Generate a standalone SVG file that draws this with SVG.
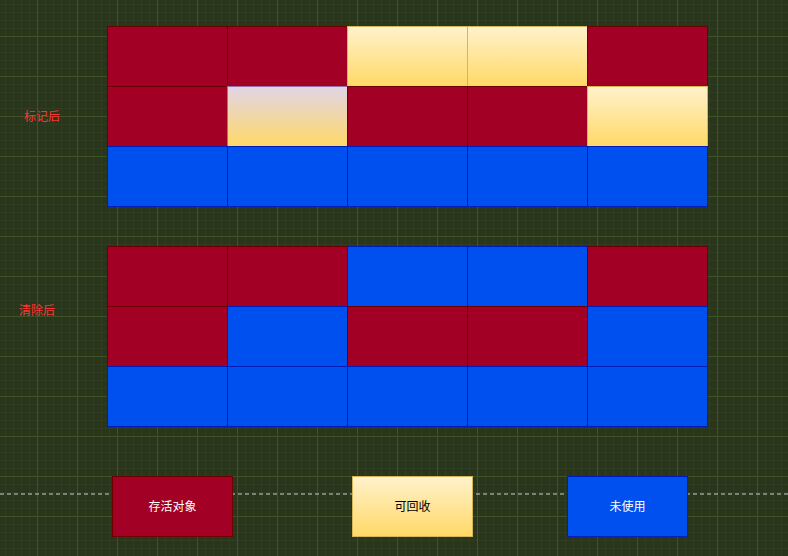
<svg xmlns="http://www.w3.org/2000/svg" width="788" height="556" viewBox="0 0 788 556">
<defs>
<pattern id="minor" x="5" y="4" width="8" height="8" patternUnits="userSpaceOnUse">
<path d="M0.5 0V8M0 0.5H8" stroke="#2f3d20" stroke-width="1" fill="none"/>
</pattern>
<pattern id="major" x="37" y="36" width="40" height="40" patternUnits="userSpaceOnUse">
<path d="M0.5 0V40M0 0.5H40" stroke="#3d5428" stroke-width="1" fill="none"/>
</pattern>
<linearGradient id="yel" x1="0" y1="0" x2="0" y2="1">
<stop offset="0" stop-color="#fff2cc"/>
<stop offset="1" stop-color="#ffd966"/>
</linearGradient>
<linearGradient id="lav" x1="0" y1="0" x2="0" y2="1">
<stop offset="0" stop-color="#e1d5e7"/>
<stop offset="1" stop-color="#ffd966"/>
</linearGradient>
</defs>
<style>
.r{fill:#a20025;stroke:#6f0000;stroke-width:1}
.b{fill:#0050ef;stroke:#001dbc;stroke-width:1}
.y{fill:url(#yel);stroke:#d6b656;stroke-width:1}
.l{fill:url(#lav);stroke:#9673a6;stroke-width:1}
.lbl{font-family:"Liberation Sans","Noto Sans CJK SC",sans-serif;font-size:12px;fill:#ff3333}
.t{font-family:"Liberation Sans","Noto Sans CJK SC",sans-serif;font-size:12px;text-anchor:middle;dominant-baseline:central}
</style>
<rect width="788" height="556" fill="#29361c"/>
<rect width="788" height="556" fill="url(#minor)"/>
<rect width="788" height="556" fill="url(#major)"/>
<g id="connectors">
<line x1="0" y1="494" x2="788" y2="494" stroke="#d0d0d0" stroke-width="1" stroke-dasharray="4 3"/>
</g>
<g id="label-marked"><text class="lbl" x="24" y="120.5">标记后</text></g>
<g id="label-cleared"><text class="lbl" x="19" y="314.5">清除后</text></g>
<g id="table-marked">
<rect class="r" x="107.5" y="26.5" width="120" height="60"/>
<rect class="r" x="227.5" y="26.5" width="120" height="60"/>
<rect class="y" x="347.5" y="26.5" width="120" height="60"/>
<rect class="y" x="467.5" y="26.5" width="120" height="60"/>
<rect class="r" x="587.5" y="26.5" width="120" height="60"/>
<rect class="r" x="107.5" y="86.5" width="120" height="60"/>
<rect class="l" x="227.5" y="86.5" width="120" height="60"/>
<rect class="r" x="347.5" y="86.5" width="120" height="60"/>
<rect class="r" x="467.5" y="86.5" width="120" height="60"/>
<rect class="y" x="587.5" y="86.5" width="120" height="60"/>
<rect class="b" x="107.5" y="146.5" width="120" height="60"/>
<rect class="b" x="227.5" y="146.5" width="120" height="60"/>
<rect class="b" x="347.5" y="146.5" width="120" height="60"/>
<rect class="b" x="467.5" y="146.5" width="120" height="60"/>
<rect class="b" x="587.5" y="146.5" width="120" height="60"/>
</g>
<g id="table-cleared">
<rect class="r" x="107.5" y="246.5" width="120" height="60"/>
<rect class="r" x="227.5" y="246.5" width="120" height="60"/>
<rect class="b" x="347.5" y="246.5" width="120" height="60"/>
<rect class="b" x="467.5" y="246.5" width="120" height="60"/>
<rect class="r" x="587.5" y="246.5" width="120" height="60"/>
<rect class="r" x="107.5" y="306.5" width="120" height="60"/>
<rect class="b" x="227.5" y="306.5" width="120" height="60"/>
<rect class="r" x="347.5" y="306.5" width="120" height="60"/>
<rect class="r" x="467.5" y="306.5" width="120" height="60"/>
<rect class="b" x="587.5" y="306.5" width="120" height="60"/>
<rect class="b" x="107.5" y="366.5" width="120" height="60"/>
<rect class="b" x="227.5" y="366.5" width="120" height="60"/>
<rect class="b" x="347.5" y="366.5" width="120" height="60"/>
<rect class="b" x="467.5" y="366.5" width="120" height="60"/>
<rect class="b" x="587.5" y="366.5" width="120" height="60"/>
</g>
<g id="legend-alive">
<rect class="r" x="112.5" y="476.5" width="120" height="60"/>
<text class="t" x="172.5" y="506.5" fill="#ffffff">存活对象</text>
</g>
<g id="legend-reclaimable">
<rect class="y" x="352.5" y="476.5" width="120" height="60"/>
<text class="t" x="412.5" y="506.5" fill="#000000">可回收</text>
</g>
<g id="legend-unused">
<rect class="b" x="567.5" y="476.5" width="120" height="60"/>
<text class="t" x="627.5" y="506.5" fill="#ffffff">未使用</text>
</g>
</svg>
